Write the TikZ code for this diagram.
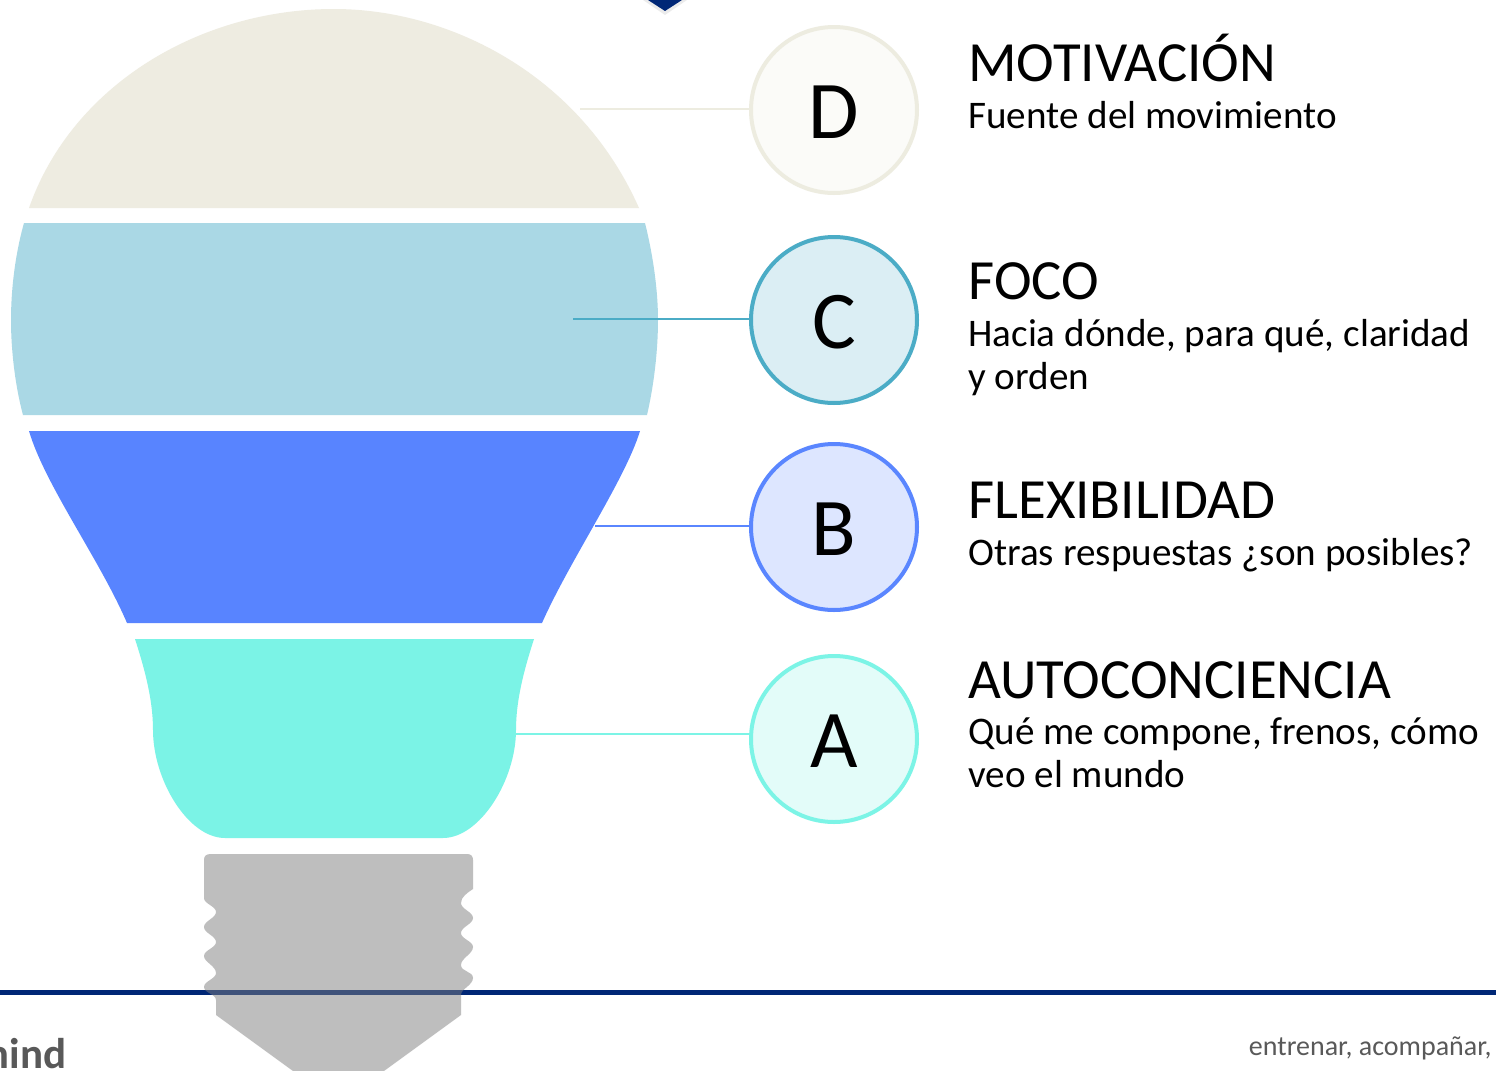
\documentclass[tikz,border=0pt]{standalone}
\usepackage{fontspec}
\setmainfont{Carlito}
\definecolor{navy}{HTML}{002776}
\definecolor{partD}{HTML}{EEECE1}
\definecolor{partC}{HTML}{AAD8E5}
\definecolor{partB}{HTML}{5884FF}
\definecolor{partA}{HTML}{7BF3E6}
\definecolor{ringD}{HTML}{EDECE0}
\definecolor{ringC}{HTML}{4BACC6}
\definecolor{ringB}{HTML}{5A86FF}
\definecolor{ringA}{HTML}{7CF4E6}
\definecolor{softD}{HTML}{FBFBF8}
\definecolor{softC}{HTML}{DBEEF4}
\definecolor{softB}{HTML}{DDE6FF}
\definecolor{softA}{HTML}{E3FCF9}
\begin{document}
\begin{tikzpicture}[x=0.5pt,y=-0.5pt]

    \tikzset{
      letter/.style={
        circle,
        draw,
        line width=2pt,
        minimum size=83pt,
        inner sep=0pt,
        text=black,
        text height=28pt,
        text depth=0pt,
        font=\fontsize{41}{41}\selectfont,
      },
      title/.style={
        anchor=base west,
        inner sep=0pt,
        font=\fontsize{28.4}{30}\selectfont,
      },
      desc/.style={
        anchor=base west,
        inner sep=0pt,
        align=left,
        font=\fontsize{19.55}{21.5}\selectfont,
      },
      leader/.style={
        line width=0.75pt,
      },
    }
    \path[use as bounding box] (0,0) rectangle (1496,1071);
    \clip (0,0) rectangle (1496,1071);

	\fill[white] (0,0) rectangle (1496,1071);
	\fill[black,opacity = 0.08] (643,0)--(665,15)--(687,0)--cycle;
	\fill[navy] (648,0)--(665,11)--(682,0)--cycle;

	\fill[partD] (29,208) .. controls (72,85) and (200,9) .. (334,9) .. controls (450,9) and (580,75) .. (639,208)--cycle;
	\fill[partC] (24,223)--(645,223) .. controls (653,255) and (658,290) .. (658,320) .. controls (658,350) and (654,385) .. (647,415)--(23,415) .. controls (15,385) and (11,350) .. (11,320) .. controls (11,290) and (15,255) .. (24,223)--cycle;
	\fill[partB] (29,431)--(640,431) .. controls (625,480) and (570,560) .. (542,623)--(127,623) .. controls (100,560) and (45,485) .. (29,431)--cycle;
	\fill[partA] (135,639)--(534,639) .. controls (524,670) and (516,700) .. (516,730) .. controls (516,780) and (480,838) .. (443,838)--(225,838) .. controls (188,838) and (153,780) .. (153,730) .. controls (153,700) and (145,670) .. (135,639)--cycle;

	\draw[navy,line width = 2.5pt] (0,992)--(1496,992);
	\fill[color = {rgb,255:red,126;green,126;blue,126},opacity = 0.5] (211,854)--(467,854) .. controls (471,854) and (473,856) .. (473,860)--(473,889)
	  .. controls (467,893) and (461,897) .. (461,903) .. controls (461,909) and (473,912) .. (473,918)
	  .. controls (473,924) and (461,927) .. (461,933) .. controls (461,939) and (473,941) .. (473,947)
	  .. controls (473,954) and (461,958) .. (461,965) .. controls (461,972) and (473,971) .. (473,978)
	  .. controls (473,985) and (461,989) .. (461,995)--(461,1015)--(384,1071)--(293,1071)--(216,1015)--(216,1000)
	  .. controls (216,994) and (204,993) .. (204,987) .. controls (204,981) and (216,979) .. (216,973)
	  .. controls (216,966) and (204,962) .. (204,956) .. controls (204,950) and (216,948) .. (216,942)
	  .. controls (216,936) and (204,933) .. (204,927) .. controls (204,921) and (216,918) .. (216,912)
	  .. controls (216,906) and (204,904) .. (204,898)--(204,860) .. controls (204,856) and (206,854) .. (211,854)--cycle;

	\coordinate (inD) at (580,109);
	\coordinate (inC) at (573,319);
	\coordinate (inB) at (595,526);
	\coordinate (inA) at (515,734);

	\node[letter,draw=ringD,fill=softD] (cD) at (834,110) {D};
	\node[letter,draw=ringC,fill=softC] (cC) at (834,320) {C};
	\node[letter,draw=ringB,fill=softB] (cB) at (834,527) {B};
	\node[letter,draw=ringA,fill=softA] (cA) at (834,739) {A};

	\draw[leader,ringD] (inD)--(inD -| cD.west);
	\draw[leader,ringC] (inC)--(inC -| cC.west);
	\draw[leader,ringB] (inB)--(inB -| cB.west);
	\draw[leader,ringA] (inA)--(inA -| cA.west);

	\node[title] (tD) at (968,81) {MOTIVACIÓN};
	\node[title] (tC) at (968,299) {FOCO};
	\node[title] (tB) at (968,518) {FLEXIBILIDAD};
	\node[title] (tA) at (968,698) {AUTOCONCIENCIA};
	\node[desc] (dD) at (968,128) {Fuente del movimiento};
	\node[desc] (dC) at (968,389) {Hacia dónde, para qué, claridad\\y orden};
	\node[desc] (dB) at (968,565) {Otras respuestas ¿son posibles?};
	\node[desc] (dA) at (968,787) {Qué me compone, frenos, cómo\\veo el mundo};

	\node[anchor=base east,inner sep=0pt,text=black!65,font=\fontsize{14}{14}\selectfont] (foot) at (1492,1055) {entrenar, acompañar,};
	\node[anchor=base east,inner sep=0pt,text=black!65,font=\bfseries\fontsize{21.5}{21.5}\selectfont] (logo) at (67,1068) {mind};

\end{tikzpicture}
\end{document}
